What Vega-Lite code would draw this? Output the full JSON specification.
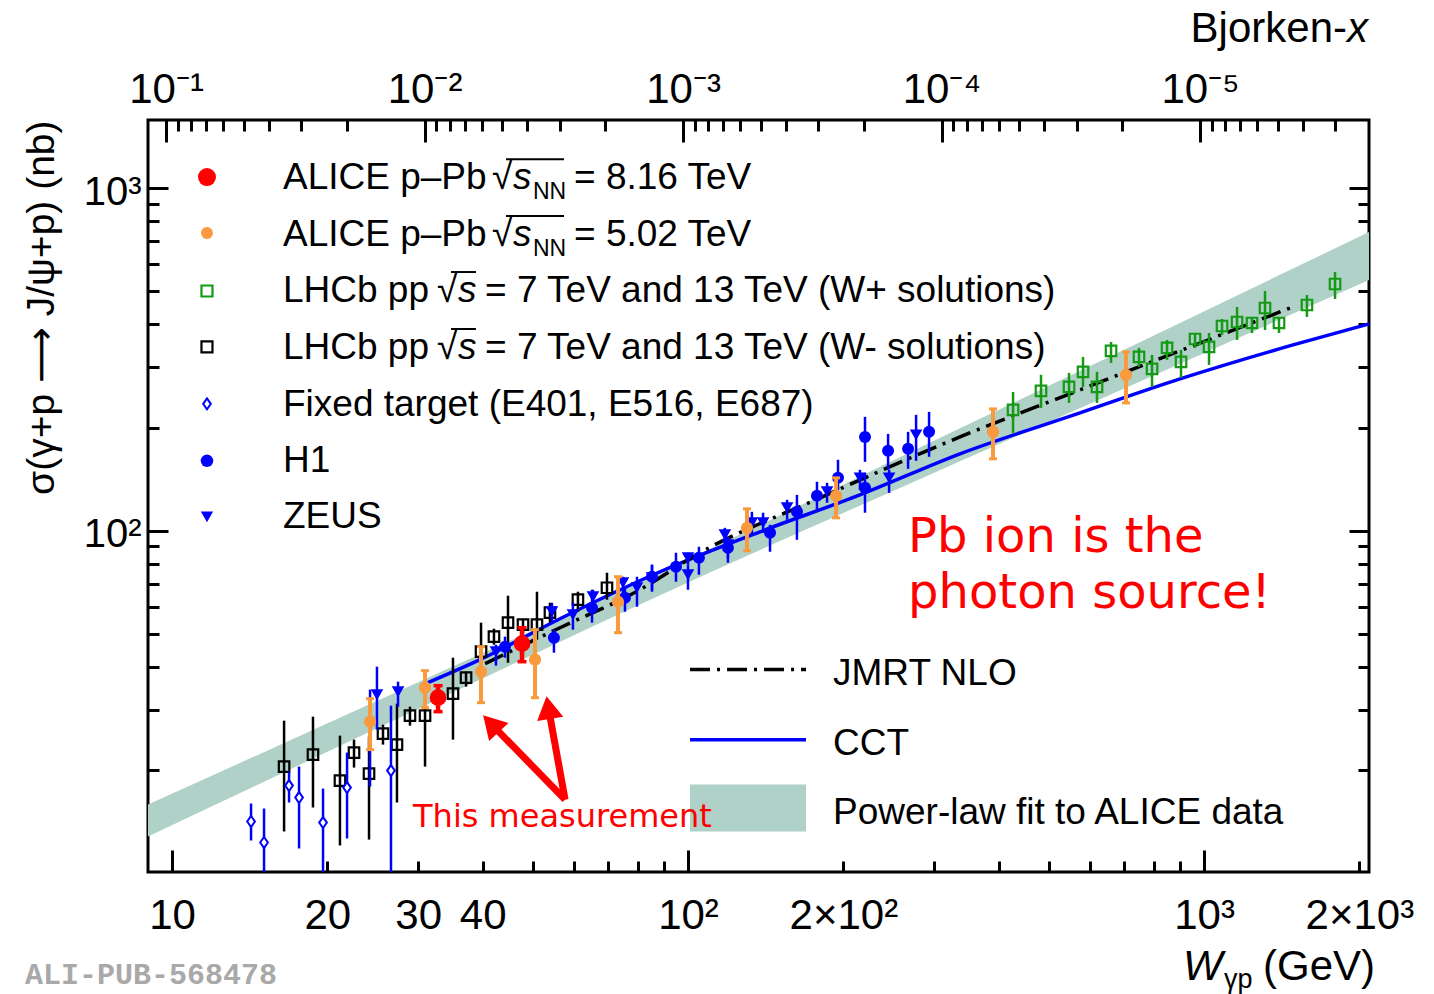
{
  "$schema": "https://vega.github.io/schema/vega-lite/v6.json",
  "width": 1221,
  "height": 752,
  "autosize": "none",
  "padding": {"left": 148, "top": 120, "right": 65, "bottom": 122},
  "background": "white",
  "config": {"view": {"stroke": "black", "strokeWidth": 3}, "font": "Liberation Sans", "axis": {"zindex": 1}},
  "datasets": {
    "alice816": [
      {"W": 32.78, "S": 32.58, "lo": 29.66, "hi": 35.32},
      {"W": 47.68, "S": 46.83, "lo": 41.50, "hi": 52.14}
    ],
    "alice502": [
      {"W": 24.20, "S": 27.73, "lo": 22.99, "hi": 32.37},
      {"W": 30.93, "S": 34.85, "lo": 30.47, "hi": 39.06},
      {"W": 39.71, "S": 38.80, "lo": 31.51, "hi": 45.90},
      {"W": 50.52, "S": 42.06, "lo": 32.58, "hi": 51.45},
      {"W": 73.16, "S": 62.09, "lo": 50.42, "hi": 73.43},
      {"W": 130.1, "S": 102.0, "lo": 87.44, "hi": 115.9},
      {"W": 193.6, "S": 126.5, "lo": 109.1, "hi": 142.7},
      {"W": 390.0, "S": 194.4, "lo": 162.2, "hi": 226.8},
      {"W": 706.0, "S": 285.1, "lo": 236.1, "hi": 332.7}
    ],
    "lhcbMinus": [
      {"W": 16.49, "S": 20.51, "lo": 13.26, "hi": 27.92},
      {"W": 18.76, "S": 22.23, "lo": 15.58, "hi": 28.68},
      {"W": 21.16, "S": 18.66, "lo": 12.07, "hi": 25.25},
      {"W": 22.53, "S": 22.53, "lo": 20.37, "hi": 24.58},
      {"W": 24.09, "S": 19.56, "lo": 12.56, "hi": 25.08},
      {"W": 25.64, "S": 25.59, "lo": 23.77, "hi": 27.18},
      {"W": 27.29, "S": 23.77, "lo": 16.11, "hi": 31.30},
      {"W": 28.92, "S": 28.87, "lo": 27.00, "hi": 30.67},
      {"W": 30.93, "S": 28.87, "lo": 20.51, "hi": 30.67},
      {"W": 35.04, "S": 33.48, "lo": 24.58, "hi": 42.62},
      {"W": 37.14, "S": 37.27, "lo": 35.09, "hi": 38.80},
      {"W": 39.71, "S": 44.38, "lo": 41.22, "hi": 53.92},
      {"W": 42.07, "S": 49.09, "lo": 46.51, "hi": 51.79},
      {"W": 44.79, "S": 53.92, "lo": 41.22, "hi": 64.64},
      {"W": 47.89, "S": 53.20, "lo": 50.42, "hi": 55.39},
      {"W": 50.97, "S": 53.20, "lo": 48.11, "hi": 66.40},
      {"W": 54.01, "S": 57.67, "lo": 53.92, "hi": 61.67},
      {"W": 61.19, "S": 62.93, "lo": 58.05, "hi": 66.40},
      {"W": 69.66, "S": 68.20, "lo": 62.93, "hi": 75.43}
    ],
    "fixedTarget": [
      {"W": 14.23, "S": 14.18, "lo": 12.48, "hi": 16.00},
      {"W": 15.08, "S": 12.31, "lo": 9.5, "hi": 15.47},
      {"W": 16.86, "S": 18.05, "lo": 16.11, "hi": 19.83},
      {"W": 17.63, "S": 16.65, "lo": 11.83, "hi": 20.51},
      {"W": 19.62, "S": 14.08, "lo": 9.5, "hi": 17.69},
      {"W": 21.84, "S": 17.81, "lo": 12.65, "hi": 22.53},
      {"W": 24.20, "S": 27.73, "lo": 17.93, "hi": 34.39},
      {"W": 26.57, "S": 19.96, "lo": 9.5, "hi": 30.88}
    ],
    "zeus": [
      {"W": 24.96, "S": 33.25, "lo": 26.29, "hi": 40.13},
      {"W": 27.42, "S": 33.93, "lo": 30.67, "hi": 36.29},
      {"W": 42.45, "S": 44.38, "lo": 40.40, "hi": 46.51},
      {"W": 54.49, "S": 58.05, "lo": 54.29, "hi": 61.67},
      {"W": 59.84, "S": 56.90, "lo": 51.45, "hi": 61.67},
      {"W": 65.44, "S": 64.21, "lo": 60.04, "hi": 67.30},
      {"W": 74.82, "S": 70.53, "lo": 65.08, "hi": 73.43},
      {"W": 79.64, "S": 68.20, "lo": 60.04, "hi": 73.43},
      {"W": 85.16, "S": 72.94, "lo": 67.30, "hi": 79.61},
      {"W": 100.0, "S": 83.43, "lo": 79.61, "hi": 86.29},
      {"W": 100.0, "S": 74.42, "lo": 67.30, "hi": 79.61},
      {"W": 117.9, "S": 97.34, "lo": 91.03, "hi": 102.0},
      {"W": 119.5, "S": 91.03, "lo": 80.69, "hi": 96.05},
      {"W": 133.0, "S": 105.5, "lo": 97.34, "hi": 113.6},
      {"W": 139.8, "S": 105.5, "lo": 98.67, "hi": 112.9},
      {"W": 155.6, "S": 116.7, "lo": 107.7, "hi": 123.1},
      {"W": 186.0, "S": 129.9, "lo": 120.7, "hi": 138.0},
      {"W": 215.4, "S": 142.7, "lo": 131.7, "hi": 150.6},
      {"W": 245.3, "S": 142.7, "lo": 129.0, "hi": 150.6},
      {"W": 276.7, "S": 190.5, "lo": 160.0, "hi": 217.9}
    ],
    "h1": [
      {"W": 44.19, "S": 45.90, "lo": 42.62, "hi": 49.09},
      {"W": 54.98, "S": 48.75, "lo": 44.08, "hi": 51.45},
      {"W": 65.16, "S": 59.64, "lo": 53.92, "hi": 67.30},
      {"W": 75.49, "S": 63.78, "lo": 58.05, "hi": 68.20},
      {"W": 85.16, "S": 73.43, "lo": 66.40, "hi": 79.61},
      {"W": 94.78, "S": 78.53, "lo": 71.00, "hi": 86.29},
      {"W": 105.0, "S": 83.43, "lo": 74.42, "hi": 89.81},
      {"W": 119.5, "S": 89.22, "lo": 83.43, "hi": 96.05},
      {"W": 144.2, "S": 98.67, "lo": 86.86, "hi": 104.1},
      {"W": 162.6, "S": 113.6, "lo": 94.14, "hi": 127.3},
      {"W": 177.8, "S": 126.5, "lo": 115.1, "hi": 139.0},
      {"W": 195.3, "S": 142.7, "lo": 131.7, "hi": 161.1},
      {"W": 220.3, "S": 187.9, "lo": 158.9, "hi": 215.0},
      {"W": 220.3, "S": 133.5, "lo": 112.9, "hi": 147.6},
      {"W": 244.2, "S": 171.1, "lo": 150.6, "hi": 191.8},
      {"W": 267.0, "S": 173.4, "lo": 151.6, "hi": 194.4},
      {"W": 293.2, "S": 194.4, "lo": 164.4, "hi": 222.3}
    ],
    "lhcbPlus": [
      {"W": 426.5, "S": 225.3, "lo": 193.1, "hi": 254.2},
      {"W": 483.2, "S": 255.9, "lo": 228.3, "hi": 285.1},
      {"W": 547.5, "S": 263.0, "lo": 236.1, "hi": 288.9},
      {"W": 582.8, "S": 290.9, "lo": 263.0, "hi": 321.6},
      {"W": 620.3, "S": 263.0, "lo": 236.1, "hi": 290.9},
      {"W": 660.4, "S": 334.9, "lo": 309.0, "hi": 355.6},
      {"W": 748.2, "S": 321.6, "lo": 300.8, "hi": 341.7},
      {"W": 793.0, "S": 296.8, "lo": 263.0, "hi": 326.0},
      {"W": 847.9, "S": 341.7, "lo": 315.2, "hi": 360.4},
      {"W": 902.5, "S": 311.0, "lo": 279.4, "hi": 337.2},
      {"W": 960.7, "S": 362.8, "lo": 341.7, "hi": 377.7},
      {"W": 1022.6, "S": 343.9, "lo": 304.8, "hi": 377.7},
      {"W": 1083.7, "S": 395.9, "lo": 372.7, "hi": 415.0},
      {"W": 1158.8, "S": 406.7, "lo": 360.4, "hi": 449.9},
      {"W": 1238.8, "S": 404.0, "lo": 377.7, "hi": 420.7},
      {"W": 1312.8, "S": 446.8, "lo": 385.4, "hi": 500.8},
      {"W": 1397.4, "S": 404.0, "lo": 377.7, "hi": 420.7},
      {"W": 1582.9, "S": 455.9, "lo": 420.7, "hi": 487.5},
      {"W": 1794.4, "S": 525.0, "lo": 474.7, "hi": 568.9}
    ],
    "fitBand": [
      {"W": 8.985, "lo": 12.82, "hi": 15.89},
      {"W": 27.66, "lo": 28.52, "hi": 34.18},
      {"W": 88.26, "lo": 64.87, "hi": 75.69},
      {"W": 336.6, "lo": 159.5, "hi": 199.0},
      {"W": 2088, "lo": 539.3, "hi": 744.0}
    ],
    "jmrt": [
      {"W": 40.44, "S": 40.95},
      {"W": 56.48, "S": 52.14},
      {"W": 80.72, "S": 67.30},
      {"W": 105.5, "S": 86.29},
      {"W": 180.3, "S": 124.8},
      {"W": 336.6, "S": 187.9},
      {"W": 575.0, "S": 257.7},
      {"W": 1468, "S": 446.8}
    ],
    "cct": [
      {"W": 31.34, "S": 36.05},
      {"W": 39.53, "S": 42.06},
      {"W": 56.48, "S": 55.39},
      {"W": 88.26, "S": 75.93},
      {"W": 137.9, "S": 99.33},
      {"W": 215.4, "S": 127.3},
      {"W": 336.6, "S": 167.7},
      {"W": 575.0, "S": 220.8},
      {"W": 898.6, "S": 277.4},
      {"W": 1488, "S": 348.6},
      {"W": 2088, "S": 401.4}
    ],
    "legendText": [
      {"W": 16.41, "S": 993.3, "t": "ALICE p–Pb"},
      {"W": 41.71, "S": 993.3, "t": "√"},
      {"W": 60.13, "S": 993.3, "t": "= 8.16 TeV"},
      {"W": 16.41, "S": 677.5, "t": "ALICE p–Pb"},
      {"W": 41.71, "S": 677.5, "t": "√"},
      {"W": 60.13, "S": 677.5, "t": "= 5.02 TeV"},
      {"W": 16.41, "S": 465.2, "t": "LHCb pp"},
      {"W": 32.63, "S": 465.2, "t": "√"},
      {"W": 40.42, "S": 465.2, "t": "= 7 TeV and 13 TeV (W+ solutions)"},
      {"W": 16.41, "S": 317.4, "t": "LHCb pp"},
      {"W": 32.63, "S": 317.4, "t": "√"},
      {"W": 40.42, "S": 317.4, "t": "= 7 TeV and 13 TeV (W- solutions)"},
      {"W": 16.41, "S": 216.4, "t": "Fixed target (E401, E516, E687)"},
      {"W": 16.41, "S": 148.6, "t": "H1"},
      {"W": 16.41, "S": 102.0, "t": "ZEUS"},
      {"W": 191.0, "S": 35.56, "t": "JMRT NLO"},
      {"W": 191.0, "S": 22.23, "t": "CCT"},
      {"W": 191.0, "S": 13.90, "t": "Power-law fit to ALICE data"}
    ],
    "legendItalic": [
      {"W": 45.81, "S": 993.3, "t": "s"},
      {"W": 45.81, "S": 677.5, "t": "s"},
      {"W": 35.84, "S": 465.2, "t": "s"},
      {"W": 35.84, "S": 317.4, "t": "s"}
    ],
    "legendSub": [
      {"W": 50.07, "S": 928.8, "t": "NN"},
      {"W": 50.07, "S": 633.7, "t": "NN"}
    ],
    "radicalBars": [
      {"W": 44.39, "W2": 57.51, "S": 1214.7},
      {"W": 44.39, "W2": 57.51, "S": 828.6},
      {"W": 34.73, "W2": 38.82, "S": 568.9},
      {"W": 34.73, "W2": 38.82, "S": 388.0}
    ]
  },
  "resolve": {"scale": {"x": "independent"}},
  "layer": [
    {
      "resolve": {"axis": {"x": "independent", "y": "independent"}},
      "encoding": {
        "x": {"field": "W", "type": "quantitative", "scale": {"type": "log", "domain": [8.985, 2088], "nice": false}, "axis": null},
        "y": {"field": "S", "type": "quantitative", "scale": {"type": "log", "domain": [10.1, 1580], "nice": false}, "axis": null}
      },
      "layer": [
        {
          "data": {"name": "fitBand"},
          "mark": {"type": "area", "color": "#b0d1c7", "opacity": 1, "clip": true, "interpolate": "monotone"},
          "encoding": {"y": {"field": "lo", "type": "quantitative", "scale": {"type": "log", "domain": [10.1, 1580], "nice": false}, "axis": null}, "y2": {"field": "hi"}}
        },
        {
          "data": {"name": "cct"},
          "mark": {"type": "line", "color": "#0000ff", "strokeWidth": 3.5, "interpolate": "monotone"}
        },
        {
          "data": {"name": "jmrt"},
          "mark": {"type": "line", "color": "black", "strokeWidth": 3.5, "strokeDash": [20, 7, 3, 7], "interpolate": "monotone"}
        },
        {
          "data": {"name": "lhcbMinus"},
          "mark": {"type": "rule", "color": "black", "strokeWidth": 2.5, "clip": true},
          "encoding": {"y": {"field": "lo", "type": "quantitative", "scale": {"type": "log", "domain": [10.1, 1580], "nice": false}, "axis": null}, "y2": {"field": "hi"}}
        },
        {
          "data": {"name": "lhcbMinus"},
          "mark": {"type": "point", "shape": "square", "size": 110, "filled": false, "stroke": "black", "strokeWidth": 2.2, "opacity": 1}
        },
        {
          "data": {"name": "fixedTarget"},
          "mark": {"type": "rule", "color": "#0000ff", "strokeWidth": 2.5, "clip": true},
          "encoding": {"y": {"field": "lo", "type": "quantitative", "scale": {"type": "log", "domain": [10.1, 1580], "nice": false}, "axis": null}, "y2": {"field": "hi"}}
        },
        {
          "data": {"name": "fixedTarget"},
          "mark": {"type": "point", "shape": "M0,-1L0.7,0L0,1L-0.7,0Z", "size": 121, "filled": true, "fill": "white", "stroke": "#0000ff", "strokeWidth": 2, "opacity": 1}
        },
        {
          "data": {"name": "h1"},
          "mark": {"type": "rule", "color": "#0000ff", "strokeWidth": 2.5},
          "encoding": {"y": {"field": "lo", "type": "quantitative", "scale": {"type": "log", "domain": [10.1, 1580], "nice": false}, "axis": null}, "y2": {"field": "hi"}}
        },
        {
          "data": {"name": "h1"},
          "mark": {"type": "point", "shape": "circle", "size": 144, "filled": true, "color": "#0000ff", "opacity": 1}
        },
        {
          "data": {"name": "zeus"},
          "mark": {"type": "rule", "color": "#0000ff", "strokeWidth": 2.5},
          "encoding": {"y": {"field": "lo", "type": "quantitative", "scale": {"type": "log", "domain": [10.1, 1580], "nice": false}, "axis": null}, "y2": {"field": "hi"}}
        },
        {
          "data": {"name": "zeus"},
          "mark": {"type": "point", "shape": "triangle-down", "size": 160, "filled": true, "color": "#0000ff", "opacity": 1}
        },
        {
          "data": {"name": "lhcbPlus"},
          "mark": {"type": "rule", "color": "#149a14", "strokeWidth": 2.5},
          "encoding": {"y": {"field": "lo", "type": "quantitative", "scale": {"type": "log", "domain": [10.1, 1580], "nice": false}, "axis": null}, "y2": {"field": "hi"}}
        },
        {
          "data": {"name": "lhcbPlus"},
          "mark": {"type": "point", "shape": "square", "size": 110, "filled": false, "stroke": "#149a14", "strokeWidth": 2.2, "opacity": 1}
        },
        {
          "data": {"name": "alice502"},
          "mark": {"type": "rule", "color": "#f89a3d", "strokeWidth": 4},
          "encoding": {"y": {"field": "lo", "type": "quantitative", "scale": {"type": "log", "domain": [10.1, 1580], "nice": false}, "axis": null}, "y2": {"field": "hi"}}
        },
        {
          "data": {"name": "alice502"},
          "mark": {"type": "tick", "orient": "horizontal", "color": "#f89a3d", "size": 8, "thickness": 3, "opacity": 1},
          "encoding": {"y": {"field": "lo", "type": "quantitative", "scale": {"type": "log", "domain": [10.1, 1580], "nice": false}, "axis": null}}
        },
        {
          "data": {"name": "alice502"},
          "mark": {"type": "tick", "orient": "horizontal", "color": "#f89a3d", "size": 8, "thickness": 3, "opacity": 1},
          "encoding": {"y": {"field": "hi", "type": "quantitative", "scale": {"type": "log", "domain": [10.1, 1580], "nice": false}, "axis": null}}
        },
        {
          "data": {"name": "alice502"},
          "mark": {"type": "point", "shape": "circle", "size": 150, "filled": true, "color": "#f89a3d", "opacity": 1}
        },
        {
          "data": {"name": "alice816"},
          "mark": {"type": "rule", "color": "#ff0000", "strokeWidth": 4.5},
          "encoding": {"y": {"field": "lo", "type": "quantitative", "scale": {"type": "log", "domain": [10.1, 1580], "nice": false}, "axis": null}, "y2": {"field": "hi"}}
        },
        {
          "data": {"name": "alice816"},
          "mark": {"type": "tick", "orient": "horizontal", "color": "#ff0000", "size": 9, "thickness": 3.5, "opacity": 1},
          "encoding": {"y": {"field": "lo", "type": "quantitative", "scale": {"type": "log", "domain": [10.1, 1580], "nice": false}, "axis": null}}
        },
        {
          "data": {"name": "alice816"},
          "mark": {"type": "tick", "orient": "horizontal", "color": "#ff0000", "size": 9, "thickness": 3.5, "opacity": 1},
          "encoding": {"y": {"field": "hi", "type": "quantitative", "scale": {"type": "log", "domain": [10.1, 1580], "nice": false}, "axis": null}}
        },
        {
          "data": {"name": "alice816"},
          "mark": {"type": "point", "shape": "circle", "size": 280, "filled": true, "color": "#ff0000", "opacity": 1}
        },
        {
          "data": {"values": [{"W": 11.69, "S": 1076.7}]},
          "mark": {"type": "point", "shape": "circle", "size": 324, "filled": true, "color": "#ff0000", "opacity": 1}
        },
        {
          "data": {"values": [{"W": 11.69, "S": 739.3}]},
          "mark": {"type": "point", "shape": "circle", "size": 144, "filled": true, "color": "#f89a3d", "opacity": 1}
        },
        {
          "data": {"values": [{"W": 11.69, "S": 500.8}]},
          "mark": {"type": "point", "shape": "square", "size": 121, "filled": false, "stroke": "#149a14", "strokeWidth": 2.2, "opacity": 1}
        },
        {
          "data": {"values": [{"W": 11.69, "S": 343.9}]},
          "mark": {"type": "point", "shape": "square", "size": 121, "filled": false, "stroke": "black", "strokeWidth": 2.2, "opacity": 1}
        },
        {
          "data": {"values": [{"W": 11.69, "S": 234.6}]},
          "mark": {"type": "point", "shape": "M0,-1L0.7,0L0,1L-0.7,0Z", "size": 121, "filled": true, "fill": "white", "stroke": "#0000ff", "strokeWidth": 2, "opacity": 1}
        },
        {
          "data": {"values": [{"W": 11.69, "S": 160.0}]},
          "mark": {"type": "point", "shape": "circle", "size": 156, "filled": true, "color": "#0000ff", "opacity": 1}
        },
        {
          "data": {"values": [{"W": 11.69, "S": 109.8}]},
          "mark": {"type": "point", "shape": "triangle-down", "size": 150, "filled": true, "color": "#0000ff", "opacity": 1}
        },
        {
          "data": {"name": "legendText"},
          "mark": {"type": "text", "align": "left", "baseline": "alphabetic", "font": "Liberation Sans", "fontSize": 37, "color": "black"},
          "encoding": {"text": {"field": "t"}}
        },
        {
          "data": {"name": "legendItalic"},
          "mark": {"type": "text", "align": "left", "baseline": "alphabetic", "font": "Liberation Sans", "fontStyle": "italic", "fontSize": 37, "color": "black"},
          "encoding": {"text": {"field": "t"}}
        },
        {
          "data": {"name": "legendSub"},
          "mark": {"type": "text", "align": "left", "baseline": "alphabetic", "font": "Liberation Sans", "fontSize": 23, "color": "black"},
          "encoding": {"text": {"field": "t"}}
        },
        {
          "data": {"name": "radicalBars"},
          "mark": {"type": "rule", "color": "black", "strokeWidth": 2},
          "encoding": {"x2": {"field": "W2"}}
        },
        {
          "data": {"values": [{"W": 100.9, "W2": 169.3, "S": 39.36}]},
          "mark": {"type": "rule", "color": "black", "strokeWidth": 3.5, "strokeDash": [20, 7, 3, 7]},
          "encoding": {"x2": {"field": "W2"}}
        },
        {
          "data": {"values": [{"W": 100.9, "W2": 169.3, "S": 24.58}]},
          "mark": {"type": "rule", "color": "#0000ff", "strokeWidth": 3.5},
          "encoding": {"x2": {"field": "W2"}}
        },
        {
          "data": {"values": [{"W": 100.9, "W2": 169.3, "S": 18.17, "S2": 13.26}]},
          "mark": {"type": "rect", "color": "#b0d1c7", "opacity": 1},
          "encoding": {"x2": {"field": "W2"}, "y2": {"field": "S2"}}
        },
        {
          "data": {"values": [{"W": 267.0, "S": 86.86, "t": "Pb ion is the"}, {"W": 267.0, "S": 59.64, "t": "photon source!"}]},
          "mark": {"type": "text", "align": "left", "baseline": "alphabetic", "font": "DejaVu Sans", "fontSize": 48, "color": "#ff0000"},
          "encoding": {"text": {"field": "t"}}
        },
        {
          "data": {"values": [{"W": 29.32, "S": 13.62, "t": "This measurement"}]},
          "mark": {"type": "text", "align": "left", "baseline": "alphabetic", "font": "DejaVu Sans", "fontSize": 32, "color": "#ff0000"},
          "encoding": {"text": {"field": "t"}}
        },
        {
          "data": {"values": [{"W": 57.78, "S": 16.43, "W2": 41.51, "S2": 27.37}, {"W": 57.78, "S": 16.43, "W2": 53.63, "S2": 30.50}]},
          "mark": {"type": "rule", "color": "#ff0000", "strokeWidth": 7},
          "encoding": {"x2": {"field": "W2"}, "y2": {"field": "S2"}}
        },
        {
          "data": {"values": [{"W": 41.51, "S": 27.37}]},
          "mark": {"type": "point", "shape": "triangle-up", "size": 700, "angle": 317, "filled": true, "color": "#ff0000", "opacity": 1}
        },
        {
          "data": {"values": [{"W": 53.63, "S": 30.50}]},
          "mark": {"type": "point", "shape": "triangle-up", "size": 700, "angle": 351, "filled": true, "color": "#ff0000", "opacity": 1}
        },
        {
          "data": {"values": [{"W": 910.7, "S": 4.875, "t": "W"}]},
          "mark": {"type": "text", "align": "left", "baseline": "alphabetic", "font": "Liberation Sans", "fontStyle": "italic", "fontSize": 42, "color": "black"},
          "encoding": {"text": {"field": "t"}}
        },
        {
          "data": {"values": [{"W": 1093.6, "S": 4.62, "t": "γp"}]},
          "mark": {"type": "text", "align": "left", "baseline": "alphabetic", "font": "Liberation Sans", "fontSize": 27, "color": "black"},
          "encoding": {"text": {"field": "t"}}
        },
        {
          "data": {"values": [{"W": 2145, "S": 4.875, "t": "(GeV)"}]},
          "mark": {"type": "text", "align": "right", "baseline": "alphabetic", "font": "Liberation Sans", "fontSize": 42, "color": "black"},
          "encoding": {"text": {"field": "t"}}
        },
        {
          "data": {"values": [{"W": 1892.7, "S": 2666, "t": "Bjorken-"}]},
          "mark": {"type": "text", "align": "right", "baseline": "alphabetic", "font": "Liberation Sans", "fontSize": 42, "color": "black"},
          "encoding": {"text": {"field": "t"}}
        },
        {
          "data": {"values": [{"W": 2078.5, "S": 2666, "t": "x"}]},
          "mark": {"type": "text", "align": "right", "baseline": "alphabetic", "font": "Liberation Sans", "fontStyle": "italic", "fontSize": 42, "color": "black"},
          "encoding": {"text": {"field": "t"}}
        },
        {
          "data": {"values": [{"W": 5.19, "S": 4.747, "t": "ALI-PUB-568478"}]},
          "mark": {"type": "text", "align": "left", "baseline": "alphabetic", "font": "Liberation Mono", "fontWeight": "bold", "fontSize": 30, "color": "#a9a9a9"},
          "encoding": {"text": {"field": "t"}}
        },
        {
          "data": {"values": [{"W": 100, "S": 100}]},
          "mark": {"type": "point", "opacity": 0},
          "encoding": {"x": {"field": "W", "type": "quantitative", "scale": {"type": "log", "domain": [8.985, 2088], "nice": false},
            "axis": {"orient": "bottom", "values": [10, 100, 1000], "labels": false, "ticks": true, "tickSize": -22, "tickWidth": 3, "tickColor": "black", "domain": false, "grid": false, "title": null}}}
        },
        {
          "data": {"values": [{"W": 100, "S": 100}]},
          "mark": {"type": "point", "opacity": 0},
          "encoding": {"x": {"field": "W", "type": "quantitative", "scale": {"type": "log", "domain": [8.985, 2088], "nice": false},
            "axis": {"orient": "bottom", "values": [20, 30, 40, 50, 60, 70, 80, 90, 200, 300, 400, 500, 600, 700, 800, 900, 2000], "labels": false, "ticks": true, "tickSize": -11, "tickWidth": 3, "tickColor": "black", "domain": false, "grid": false, "title": null}}}
        },
        {
          "data": {"values": [{"W": 100, "S": 100}]},
          "mark": {"type": "point", "opacity": 0},
          "encoding": {"x": {"field": "W", "type": "quantitative", "scale": {"type": "log", "domain": [8.985, 2088], "nice": false},
            "axis": {"orient": "bottom", "values": [10, 20, 30, 40, 100, 200, 1000, 2000], "ticks": false, "domain": false, "grid": false, "title": null,
              "labelExpr": "datum.value == 100 ? '10²' : datum.value == 200 ? '2×10²' : datum.value == 1000 ? '10³' : datum.value == 2000 ? '2×10³' : format(datum.value, 'd')",
              "labelFont": "Liberation Sans", "labelFontSize": 42, "labelColor": "black", "labelBaseline": "alphabetic", "labelPadding": 56, "labelFlush": false, "labelOverlap": false, "labelBound": false}}}
        },
        {
          "data": {"values": [{"W": 100, "S": 100}]},
          "mark": {"type": "point", "opacity": 0},
          "encoding": {"y": {"field": "S", "type": "quantitative", "scale": {"type": "log", "domain": [10.1, 1580], "nice": false},
            "axis": {"orient": "left", "values": [100, 1000], "labels": false, "ticks": true, "tickSize": -20, "tickWidth": 3, "tickColor": "black", "domain": false, "grid": false, "title": null}}}
        },
        {
          "data": {"values": [{"W": 100, "S": 100}]},
          "mark": {"type": "point", "opacity": 0},
          "encoding": {"y": {"field": "S", "type": "quantitative", "scale": {"type": "log", "domain": [10.1, 1580], "nice": false},
            "axis": {"orient": "left", "values": [20, 30, 40, 50, 60, 70, 80, 90, 200, 300, 400, 500, 600, 700, 800, 900], "labels": false, "ticks": true, "tickSize": -11, "tickWidth": 3, "tickColor": "black", "domain": false, "grid": false, "title": null}}}
        },
        {
          "data": {"values": [{"W": 100, "S": 100}]},
          "mark": {"type": "point", "opacity": 0},
          "encoding": {"y": {"field": "S", "type": "quantitative", "scale": {"type": "log", "domain": [10.1, 1580], "nice": false},
            "axis": {"orient": "left", "values": [100, 1000], "ticks": false, "domain": false, "grid": false,
              "labelExpr": "datum.value == 100 ? '10²' : '10³'",
              "labelFont": "Liberation Sans", "labelFontSize": 40, "labelColor": "black", "labelPadding": 7, "labelBaseline": "middle", "labelOffset": 4, "labelFlush": false, "labelOverlap": false,
              "title": "σ(γ+p ⟶ J/ψ+p) (nb)", "titleFont": "Liberation Sans, DejaVu Sans", "titleFontSize": 39, "titleFontWeight": "normal", "titleColor": "black", "titleAnchor": "end", "titlePadding": 22}}}
        },
        {
          "data": {"values": [{"W": 100, "S": 100}]},
          "mark": {"type": "point", "opacity": 0},
          "encoding": {"y": {"field": "S", "type": "quantitative", "scale": {"type": "log", "domain": [10.1, 1580], "nice": false},
            "axis": {"orient": "right", "values": [100, 1000], "labels": false, "ticks": true, "tickSize": -20, "tickWidth": 3, "tickColor": "black", "domain": false, "grid": false, "title": null}}}
        },
        {
          "data": {"values": [{"W": 100, "S": 100}]},
          "mark": {"type": "point", "opacity": 0},
          "encoding": {"y": {"field": "S", "type": "quantitative", "scale": {"type": "log", "domain": [10.1, 1580], "nice": false},
            "axis": {"orient": "right", "values": [20, 30, 40, 50, 60, 70, 80, 90, 200, 300, 400, 500, 600, 700, 800, 900], "labels": false, "ticks": true, "tickSize": -11, "tickWidth": 3, "tickColor": "black", "domain": false, "grid": false, "title": null}}}
        }
      ]
    },
    {
      "data": {"values": [{"xbj": 0.001}]},
      "mark": {"type": "point", "opacity": 0},
      "encoding": {"x": {"field": "xbj", "type": "quantitative", "scale": {"type": "log", "domain": [0.00000222, 0.1174], "reverse": true, "nice": false},
        "axis": {"orient": "top", "values": [0.1, 0.01, 0.001, 0.0001, 0.00001], "labels": false, "ticks": true, "tickSize": -22, "tickWidth": 3, "tickColor": "black", "domain": false, "grid": false, "title": null}}}
    },
    {
      "data": {"values": [{"xbj": 0.001}]},
      "mark": {"type": "point", "opacity": 0},
      "encoding": {"x": {"field": "xbj", "type": "quantitative", "scale": {"type": "log", "domain": [0.00000222, 0.1174], "reverse": true, "nice": false},
        "axis": {"orient": "top", "values": [0.09, 0.08, 0.07, 0.06, 0.05, 0.04, 0.03, 0.02, 0.009, 0.008, 0.007, 0.006, 0.005, 0.004, 0.003, 0.002, 0.0009, 0.0008, 0.0007, 0.0006, 0.0005, 0.0004, 0.0003, 0.0002, 0.00009, 0.00008, 0.00007, 0.00006, 0.00005, 0.00004, 0.00003, 0.00002, 0.000009, 0.000008, 0.000007, 0.000006, 0.000005, 0.000004, 0.000003], "labels": false, "ticks": true, "tickSize": -11, "tickWidth": 3, "tickColor": "black", "domain": false, "grid": false, "title": null}}}
    },
    {
      "data": {"values": [{"xbj": 0.001}]},
      "mark": {"type": "point", "opacity": 0},
      "encoding": {"x": {"field": "xbj", "type": "quantitative", "scale": {"type": "log", "domain": [0.00000222, 0.1174], "reverse": true, "nice": false},
        "axis": {"orient": "top", "values": [0.1, 0.01, 0.001, 0.0001, 0.00001], "ticks": false, "domain": false, "grid": false, "title": null,
          "labelExpr": "'10⁻' + (datum.value > 0.05 ? '¹' : datum.value > 0.005 ? '²' : datum.value > 0.0005 ? '³' : datum.value > 0.00005 ? '⁴' : '⁵')",
          "labelFont": "Liberation Sans", "labelFontSize": 42, "labelColor": "black", "labelBaseline": "alphabetic", "labelPadding": 18, "labelFlush": false, "labelOverlap": false, "labelBound": false}}}
    }
  ]
}
